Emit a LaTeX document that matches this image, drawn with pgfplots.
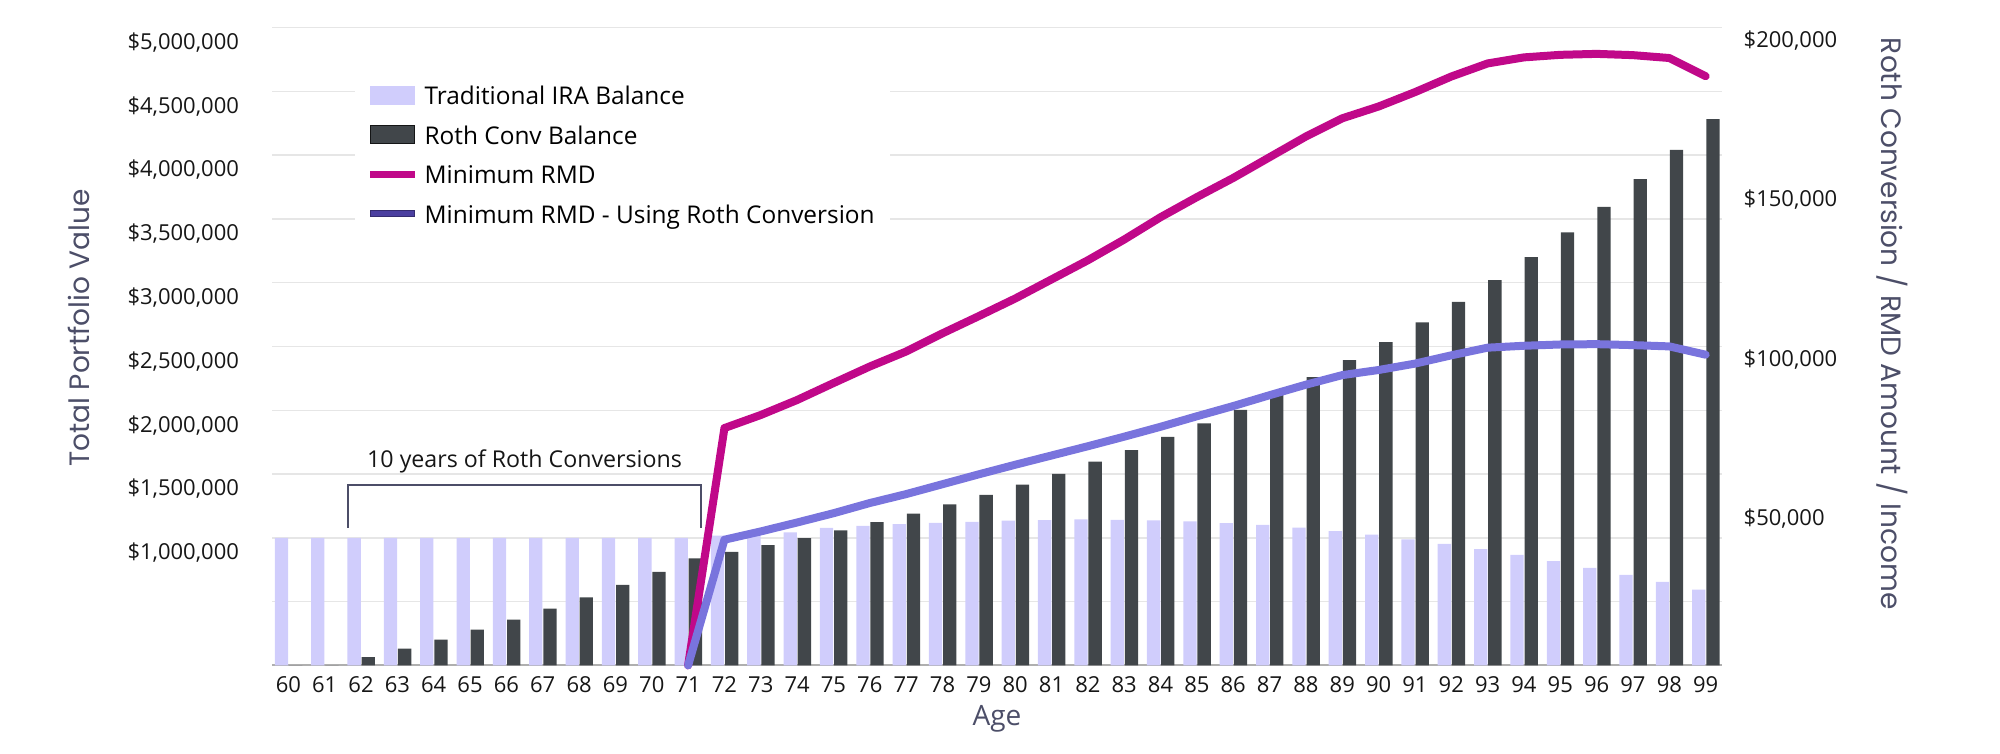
\documentclass[border=0pt]{standalone}
\usepackage{fontspec}
\setmainfont{Open Sans}
\newfontfamily\titlefont{Poppins}
\usepackage{pgfplots}
\usepackage{pgfplotstable}
\pgfplotsset{compat=1.18}

\definecolor{iralight}{RGB}{208,205,252}
\definecolor{rothdark}{RGB}{65,70,74}
\definecolor{rmdmag}{RGB}{192,8,137}
\definecolor{rmdblue}{RGB}{121,116,221}
\definecolor{legblue}{RGB}{75,63,160}
\definecolor{slate}{RGB}{76,78,104}
\definecolor{gridgray}{RGB}{230,230,230}
\definecolor{basegray}{RGB}{175,175,175}
\definecolor{ticktext}{RGB}{22,22,22}

% balances in dollars
\pgfplotstableread{
age ira     roth
60  1000000 0
61  1000000 0
62  1000000 65000
63  1000000 131000
64  1000000 202000
65  1000000 280000
66  1000000 359000
67  1000000 445000
68  1000000 534000
69  1000000 631000
70  1000000 733000
71  1000000 838000
72  1018000 889000
73  1030000 942000
74  1042000 997000
75  1078000 1058000
76  1094000 1123000
77  1107000 1190000
78  1117000 1262000
79  1125000 1336000
80  1134000 1417000
81  1139000 1501000
82  1144000 1597000
83  1141000 1688000
84  1136000 1790000
85  1128000 1896000
86  1115000 2003000
87  1102000 2130000
88  1079000 2260000
89  1052000 2393000
90  1024000 2534000
91  987000  2688000
92  953000  2849000
93  911000  3019000
94  866000  3200000
95  817000  3393000
96  764000  3594000
97  709000  3810000
98  654000  4040000
99  594000  4282000
}\balances

% minimum RMD with and without the conversions
\pgfplotstableread{
age rmd    rmdroth
71  0      0
72  74400  39400
73  78500  42000
74  83200  44800
75  88500  47700
76  93700  50900
77  98400  53700
78  104100 56800
79  109500 59900
80  115000 62900
81  121000 65800
82  127000 68700
83  133500 71700
84  140500 74800
85  146800 78100
86  152800 81300
87  159300 84700
88  165800 88000
89  171500 91000
90  175200 92600
91  179700 94600
92  184600 97200
93  188700 99600
94  190600 100200
95  191400 100600
96  191700 100700
97  191300 100400
98  190400 100000
99  184700 97400
}\rmds

\begin{document}
\begin{tikzpicture}
\begin{axis}[
  scale only axis, width=725pt, height=319pt,
  xmin=59.55, xmax=99.45, ymin=0, ymax=5000000,
  axis x line*=bottom, axis y line*=left,
  x axis line style={draw=basegray, line width=1pt},
  y axis line style={draw=none},
  major tick length=0pt,
  xtick={60,...,99},
  ytick={500000,1000000,1500000,2000000,2500000,3000000,3500000,4000000,4500000,5000000},
  yticklabels={{},{\$1,000,000},{\$1,500,000},{\$2,000,000},{\$2,500,000},{\$3,000,000},{\$3,500,000},{\$4,000,000},{\$4,500,000},{\$5,000,000}},
  scaled y ticks=false,
  ymajorgrids, major grid style={draw=gridgray, line width=0.7pt},
  /pgf/number format/assume math mode=true,
  ticklabel style={font=\fontsize{11}{13}\selectfont, text=ticktext},
  yticklabel style={xshift=-13pt, yshift=-7.5pt},
  xticklabel style={yshift=-2pt},
  xlabel={Age}, ylabel={Total Portfolio Value},
  every axis x label/.style={at={(axis description cs:0.5,0)}, anchor=base, yshift=-30pt,
    font=\fontsize{14}{16}\selectfont, text=slate},
  every axis y label/.style={at={(axis description cs:-0.1331,0.529)}, anchor=center, rotate=90,
    font=\titlefont\fontsize{14}{16}\selectfont, text=slate},
  clip=false,
]
\addplot[ybar, bar width=6.65pt, bar shift=-3.45pt, fill=iralight, draw=none]
  table[x=age, y=ira]{\balances};
\addplot[ybar, bar width=6.65pt, bar shift=3.63pt, fill=rothdark, draw=none]
  table[x=age, y=roth]{\balances};
% bracket over the conversion years
\draw[slate, line width=1pt] (axis cs:61.64,1077000) |- (axis cs:71.36,1414000) -- (axis cs:71.36,1077000);
\node[font=\fontsize{11.6}{14}\selectfont, text=ticktext] at (axis cs:66.5,1602000) {10 years of Roth Conversions};
\end{axis}

\begin{axis}[
  scale only axis, width=725pt, height=319pt,
  xmin=59.55, xmax=99.45, ymin=0, ymax=200000,
  hide x axis, axis y line*=right, y axis line style={draw=none},
  major tick length=0pt,
  ytick={50000,100000,150000,200000},
  yticklabels={{\$50,000},{\$100,000},{\$150,000},{\$200,000}},
  scaled y ticks=false,
  yticklabel style={font=\fontsize{11}{13}\selectfont, text=ticktext, xshift=7.3pt, yshift=-6.5pt},
  ylabel={Roth Conversion / RMD Amount / Income},
  every axis y label/.style={at={(axis description cs:1.1172,0.5356)}, anchor=center, rotate=-90,
    font=\titlefont\fontsize{14}{16}\selectfont, text=slate},
  legend cell align=left,
  legend style={at={(axis description cs:0.0572,0.941)}, anchor=north west,
    draw=none, fill=white, inner xsep=7.5pt, inner ysep=10pt,
    row sep=10.3pt, column sep=4.65pt,
    font=\fontsize{12.2}{14}\selectfont,
    nodes={inner sep=0pt, text height=9.5pt, text depth=0pt}},
  clip=false,
]
\addlegendimage{legend image code/.code={\fill[iralight] (0pt,-4.5pt) rectangle (22pt,4.5pt);}}
\addlegendentry{Traditional IRA Balance}
\addlegendimage{legend image code/.code={\fill[rothdark, draw=black!70!rothdark, line width=0.5pt] (0pt,-4.5pt) rectangle (22pt,4.5pt);}}
\addlegendentry{Roth Conv Balance}
\addlegendimage{legend image code/.code={\fill[rmdmag] (0pt,-1.6pt) rectangle (22pt,1.6pt);}}
\addlegendentry{Minimum RMD}
\addlegendimage{legend image code/.code={\fill[legblue, draw=legblue!70!black, line width=0.5pt] (0pt,-1.6pt) rectangle (22pt,1.6pt);}}
\addlegendentry{Minimum RMD - Using Roth Conversion}

\addplot[rmdmag, line width=4pt, line cap=round, line join=round, forget plot]
  table[x=age, y=rmd]{\rmds};
\addplot[rmdblue, line width=4pt, line cap=round, line join=round, forget plot]
  table[x=age, y=rmdroth]{\rmds};
\end{axis}
\pgfresetboundingbox
\path[use as bounding box] (-136pt,-44.3pt) rectangle (864pt,332.7pt);
\end{tikzpicture}
\end{document}
